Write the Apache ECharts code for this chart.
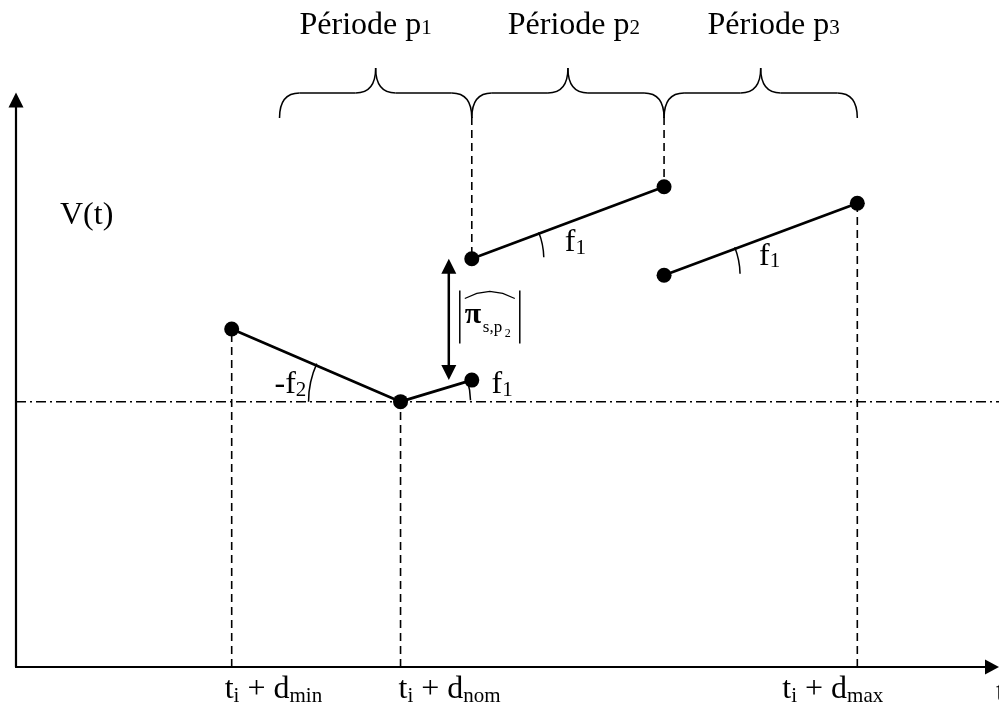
<!DOCTYPE html>
<html><head><meta charset="utf-8">
<script src="https://cdn.jsdelivr.net/npm/echarts@6/dist/echarts.min.js"></script>
<style>html,body{margin:0;padding:0;background:#fff}#chart{width:999px;height:708px}</style>
</head><body><div id="chart"></div>
<script>
// ---------------- data ----------------
const timeTicks = [22.1, 39.4, 86.2];            // t_i+d_min, t_i+d_nom, t_i+d_max
const timeTickLabels = ['{a|t}{s|i}{a| + d}{s|min}', '{a|t}{s|i}{a| + d}{s|nom}', '{a|t}{s|i}{a| + d}{s|max}'];
const periodBounds = [27.0, 46.7, 66.4, 86.2];
const periodLabels = ['{a|Période p}{s|1}', '{a|Période p}{s|2}', '{a|Période p}{s|3}'];
const nominalValue = 46.8;
const seg1X = [22.1, 39.4, 46.7];
const seg1V = [59.6, 46.8, 50.6];
const seg2X = [46.7, 66.4];
const seg2V = [72.0, 84.7];
const seg3X = [66.4, 86.2];
const seg3V = [69.1, 81.8];
const slopeLabels = ['{a|-f}{s|2}', '{a|f}{s|1}', '{a|f}{s|1}', '{a|f}{s|1}'];
const yAxisName = 'V(t)';
const xAxisName = 't';

// ---------------- layout / style ----------------
const FONT = '"Liberation Serif","Times New Roman",serif';
const MAIN = 32, SUB = 21;
const BLACK = '#000';
const tickLabelDx = [-7, -2, -75];
const periodLabelDx = [-10, 6, 13];
const arcRadius = [92, 70, 72, 76];
const slopeLabelDx = [-126, 91, 93, 95];
const slopeLabelDy = [-6, -6, -5, -8];

function rich(subPad) {
  return {
    a: {fontFamily: FONT, fontSize: MAIN, fill: BLACK, lineHeight: 48},
    s: {fontFamily: FONT, fontSize: SUB, fill: BLACK, lineHeight: 48, padding: [subPad, 0, 0, 0]}
  };
}
function textEl(str, x, baseline, align, subPad) {
  return {type: 'text', style: {text: str, rich: rich(subPad), x: x, y: baseline - 0.3375 * MAIN,
    align: align || 'left', verticalAlign: 'middle'}};
}
function seg(xs, vs) { return xs.map((x, i) => [x, vs[i]]); }

const lineSeries = [seg(seg1X, seg1V), seg(seg2X, seg2V), seg(seg3X, seg3V)].map(d => ({
  type: 'line', data: d, symbol: 'circle', symbolSize: 15, z: 5,
  lineStyle: {color: BLACK, width: 2.7}, itemStyle: {color: BLACK}, animation: false, silent: true
}));

const dropValues = [seg1V[0], seg1V[1], seg3V[1]];

const option = {
  animation: false,
  grid: {left: 16, right: 7, top: 100, bottom: 41},
  xAxis: {type: 'value', min: 0, max: 100,
    axisLine: {show: true, symbol: ['none', 'triangle'], symbolSize: [15, 14], lineStyle: {color: BLACK, width: 2.2}},
    axisTick: {show: false}, axisLabel: {show: false}, splitLine: {show: false}},
  yAxis: {type: 'value', min: 0, max: 100,
    axisLine: {show: true, symbol: ['none', 'triangle'], symbolSize: [15, 15], lineStyle: {color: BLACK, width: 2.2}},
    axisTick: {show: false}, axisLabel: {show: false}, splitLine: {show: false}},
  graphic: [
    {type: 'text', x: 60, y: 226 - 0.3375 * MAIN, style: {text: yAxisName, fontFamily: FONT, fontSize: MAIN, fill: BLACK, align: 'left', verticalAlign: 'middle'}},
    {type: 'text', x: 996, y: 703 - 0.3375 * MAIN, style: {text: xAxisName, fontFamily: FONT, fontSize: MAIN, fill: BLACK, align: 'left', verticalAlign: 'middle'}}
  ],
  series: [
    // nominal dash-dot baseline
    {type: 'custom', data: [[0, nominalValue]], clip: false, silent: true,
      renderItem(params, api) {
        const p = api.coord([api.value(0), api.value(1)]);
        return {type: 'line', shape: {x1: p[0], y1: p[1], x2: api.getWidth(), y2: p[1]},
          style: {stroke: BLACK, lineWidth: 1.5, lineDash: [10, 4, 2, 4]}};
      }},
    // drop lines + tick labels
    {type: 'custom', data: timeTicks.map((t, i) => [t, dropValues[i], i]), clip: false, silent: true,
      renderItem(params, api) {
        const x = api.value(0), v = api.value(1), i = api.value(2);
        const p0 = api.coord([x, 0]), p1 = api.coord([x, v]);
        return {type: 'group', children: [
          {type: 'line', shape: {x1: p0[0], y1: p0[1], x2: p1[0], y2: p1[1]},
            style: {stroke: BLACK, lineWidth: 1.6, lineDash: [8, 5]}},
          textEl(timeTickLabels[i], p0[0] + tickLabelDx[i], p0[1] + 33, 'left', 14)
        ]};
      }},
    // boundary dashed lines up to the braces
    {type: 'custom', data: [[seg2X[0], seg2V[0]], [seg2X[1], seg2V[1]]], clip: false, silent: true,
      renderItem(params, api) {
        const p = api.coord([api.value(0), api.value(1)]);
        const top = params.coordSys.y + 17;
        return {type: 'line', shape: {x1: p[0], y1: top, x2: p[0], y2: p[1]},
          style: {stroke: BLACK, lineWidth: 1.6, lineDash: [8, 5]}};
      }},
    // braces + period labels
    {type: 'custom', data: periodLabels.map((l, i) => [periodBounds[i], periodBounds[i + 1], i]), clip: false, silent: true,
      renderItem(params, api) {
        const L = api.coord([api.value(0), 0])[0], R = api.coord([api.value(1), 0])[0], i = api.value(2);
        const top = params.coordSys.y;
        const yEnd = top + 18, yH = top - 7, yTip = top - 32, M = (L + R) / 2, r = 20;
        const st = {stroke: BLACK, lineWidth: 1.5, fill: null};
        return {type: 'group', children: [
          {type: 'bezierCurve', shape: {x1: L, y1: yEnd, x2: L + r, y2: yH, cpx1: L, cpy1: yH}, style: st},
          {type: 'line', shape: {x1: L + r, y1: yH, x2: M - r, y2: yH}, style: st},
          {type: 'bezierCurve', shape: {x1: M - r, y1: yH, x2: M, y2: yTip, cpx1: M, cpy1: yH}, style: st},
          {type: 'bezierCurve', shape: {x1: M, y1: yTip, x2: M + r, y2: yH, cpx1: M, cpy1: yH}, style: st},
          {type: 'line', shape: {x1: M + r, y1: yH, x2: R - r, y2: yH}, style: st},
          {type: 'bezierCurve', shape: {x1: R - r, y1: yH, x2: R, y2: yEnd, cpx1: R, cpy1: yH}, style: st},
          textEl(periodLabels[i], M + periodLabelDx[i], 36, 'center', 7)
        ]};
      }},
    // slope angle arcs + labels
    {type: 'custom', clip: false, silent: true,
      data: [
        [seg1X[1], seg1V[1], seg1X[0], seg1V[0], -1, 0],
        [seg1X[1], seg1V[1], seg1X[2], seg1V[2], 1, 1],
        [seg2X[0], seg2V[0], seg2X[1], seg2V[1], 1, 2],
        [seg3X[0], seg3V[0], seg3X[1], seg3V[1], 1, 3]
      ],
      renderItem(params, api) {
        const c = api.coord([api.value(0), api.value(1)]);
        const o = api.coord([api.value(2), api.value(3)]);
        const dir = api.value(4), i = api.value(5);
        const a = Math.atan2(o[1] - c[1], o[0] - c[0]);
        let s, e;
        if (dir > 0) { s = a - 0.02; e = -0.02; }
        else { s = -Math.PI; e = a + 0.02; }
        return {type: 'group', children: [
          {type: 'arc', shape: {cx: c[0], cy: c[1], r: arcRadius[i], startAngle: s, endAngle: e, clockwise: true},
            style: {stroke: BLACK, lineWidth: 1.5, fill: null}},
          textEl(slopeLabels[i], c[0] + slopeLabelDx[i], c[1] + slopeLabelDy[i], 'left', 11)
        ]};
      }},
    // jump double arrow + |pi_hat_{s,p2}|
    {type: 'custom', clip: false, silent: true,
      data: [[seg1X[2], seg1V[2], seg2V[0]]],
      renderItem(params, api) {
        const bx = api.coord([api.value(0), 0])[0];
        const yb = api.coord([0, api.value(1)])[1];
        const yt = api.coord([0, api.value(2)])[1];
        const ax = bx - 23, mid = (yb + yt) / 2;
        const hw = 7.5, hl = 15;
        const st = {stroke: BLACK, lineWidth: 2.5};
        return {type: 'group', children: [
          {type: 'line', shape: {x1: ax, y1: yt + 8, x2: ax, y2: yb - 8}, style: st},
          {type: 'polygon', shape: {points: [[ax, yt], [ax - hw, yt + hl], [ax + hw, yt + hl]]}, style: {fill: BLACK}},
          {type: 'polygon', shape: {points: [[ax, yb], [ax - hw, yb - hl], [ax + hw, yb - hl]]}, style: {fill: BLACK}},
          {type: 'line', shape: {x1: ax + 11, y1: mid - 29, x2: ax + 11, y2: mid + 24}, style: {stroke: BLACK, lineWidth: 1.5}},
          {type: 'line', shape: {x1: ax + 71, y1: mid - 29, x2: ax + 71, y2: mid + 24}, style: {stroke: BLACK, lineWidth: 1.5}},
          {type: 'polyline', shape: {points: [[ax + 16, mid - 21], [ax + 28, mid - 26], [ax + 41, mid - 28], [ax + 54, mid - 26], [ax + 66, mid - 21]]},
            style: {stroke: BLACK, lineWidth: 1.2, fill: null}},
          {type: 'text', style: {text: 'π', x: ax + 16, y: mid + 6 - 0.3375 * 30, fontFamily: FONT, fontSize: 30, fontWeight: 'bold', fill: BLACK, align: 'left', verticalAlign: 'middle'}},
          {type: 'text', style: {text: 's,p', x: ax + 34, y: mid + 14 - 0.3375 * 17, fontFamily: FONT, fontSize: 17, fill: BLACK, align: 'left', verticalAlign: 'middle'}},
          {type: 'text', style: {text: '2', x: ax + 56, y: mid + 18 - 0.3375 * 12, fontFamily: FONT, fontSize: 12, fill: BLACK, align: 'left', verticalAlign: 'middle'}}
        ]};
      }}
  ].concat(lineSeries)
};

const chart = echarts.init(document.getElementById('chart'), null, {renderer: 'canvas'});
chart.setOption(option);
</script>
</body></html>
